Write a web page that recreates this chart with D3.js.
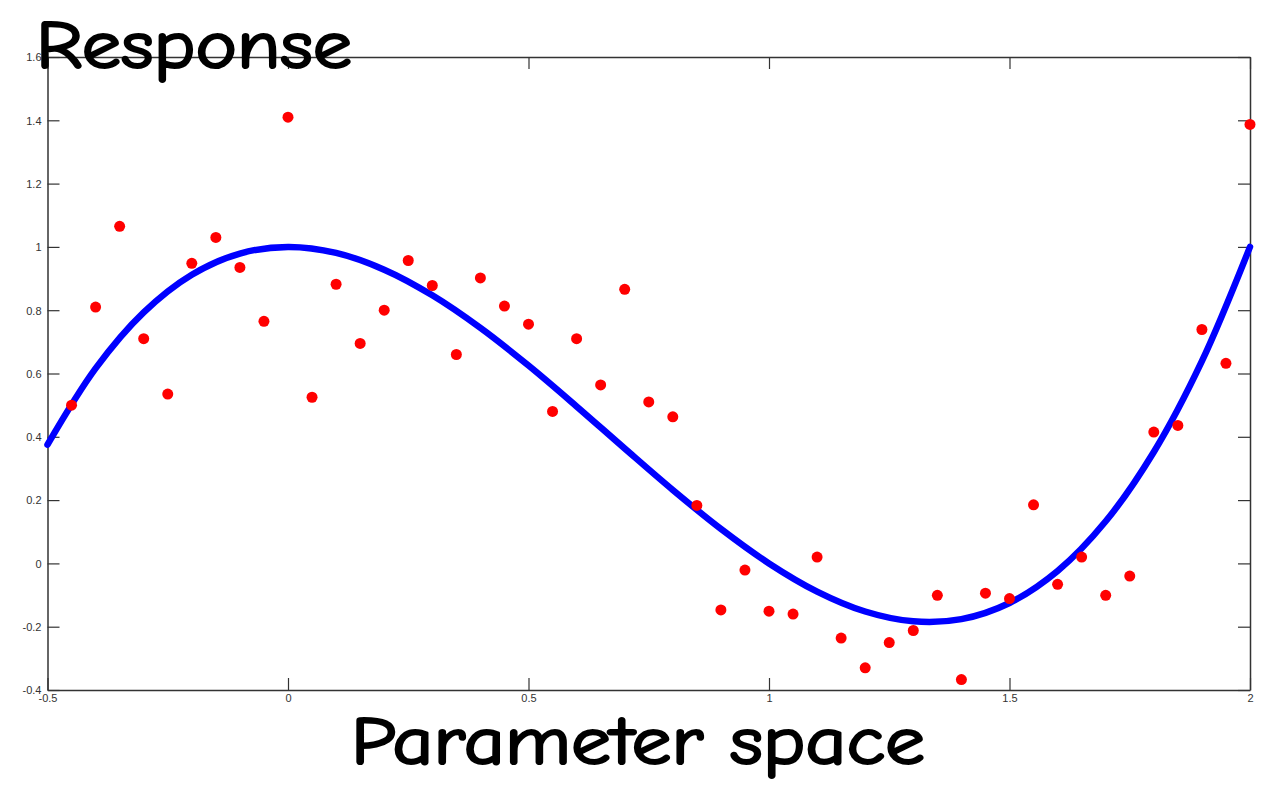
<!DOCTYPE html>
<html>
<head>
<meta charset="utf-8">
<script src="https://cdn.jsdelivr.net/npm/d3@7"></script>
<style>
  html, body { margin: 0; padding: 0; background: #fff; }
  svg { display: block; }
</style>
</head>
<body>
<svg id="chart" width="1261" height="785"></svg>
<script>
// ---- data ----
const sampleX = [-0.45,-0.4,-0.35,-0.3,-0.25,-0.2,-0.15,-0.1,-0.05,0,0.05,0.1,0.15,0.2,0.25,0.3,0.35,0.4,0.45,0.5,0.55,0.6,0.65,0.7,0.75,0.8,0.85,0.9,0.95,1.0,1.05,1.1,1.15,1.2,1.25,1.3,1.35,1.4,1.45,1.5,1.55,1.6,1.65,1.7,1.75,1.8,1.85,1.9,1.95,2.0];
const sampleY = [0.50,0.81,1.065,0.71,0.535,0.948,1.03,0.935,0.765,1.41,0.525,0.882,0.695,0.80,0.957,0.878,0.66,0.902,0.813,0.756,0.48,0.71,0.564,0.866,0.51,0.463,0.183,-0.147,-0.021,-0.151,-0.16,0.02,-0.236,-0.33,-0.25,-0.212,-0.101,-0.367,-0.094,-0.111,0.185,-0.066,0.02,-0.101,-0.04,0.415,0.436,0.739,0.632,1.387];

const curveX = [-0.5,-0.4,-0.3,-0.2,-0.1,0,0.1,0.2,0.3,0.4,0.5,0.6,0.7,0.8,0.9,1.0,1.1,1.2,1.3,1.4,1.5,1.6,1.7,1.8,1.9,2.0];
const curveY = [0.375,0.616,0.793,0.912,0.979,1.0,0.981,0.928,0.847,0.744,0.625,0.496,0.363,0.232,0.109,0.0,-0.089,-0.152,-0.183,-0.176,-0.125,-0.024,0.133,0.352,0.639,1.0];

const xTicks = [-0.5, 0, 0.5, 1, 1.5, 2];
const xTickLabels = ["-0.5", "0", "0.5", "1", "1.5", "2"];
const yTicks = [-0.4, -0.2, 0, 0.2, 0.4, 0.6, 0.8, 1, 1.2, 1.4, 1.6];
const yTickLabels = ["-0.4", "-0.2", "0", "0.2", "0.4", "0.6", "0.8", "1", "1.2", "1.4", "1.6"];

const titleY = "Response";
const titleX = "Parameter space";

// ---- layout ----
const svg = d3.select("#chart");
const L = 47.5, R = 1250, T = 57, B = 690;

const x = d3.scaleLinear().domain([-0.5, 2]).range([L, R]);
const y = d3.scaleLinear().domain([-0.4, 1.6]).range([B, T]);

const axisColor = "#333";
const tickLen = 12;

const fmtX = (d, i) => xTickLabels[i];
const fmtY = (d, i) => yTickLabels[i];

const gBottom = svg.append("g").attr("transform", `translate(0,${B})`)
  .call(d3.axisBottom(x).tickValues(xTicks).tickFormat(fmtX).tickSizeInner(-tickLen).tickSizeOuter(0).tickPadding(4));
const gTop = svg.append("g").attr("transform", `translate(0,${T})`)
  .call(d3.axisTop(x).tickValues(xTicks).tickFormat("").tickSizeInner(-tickLen).tickSizeOuter(0));
const gLeft = svg.append("g").attr("transform", `translate(${L},0)`)
  .call(d3.axisLeft(y).tickValues(yTicks).tickFormat(fmtY).tickSizeInner(-tickLen).tickSizeOuter(0).tickPadding(6));
const gRight = svg.append("g").attr("transform", `translate(${R},0)`)
  .call(d3.axisRight(y).tickValues(yTicks).tickFormat("").tickSizeInner(-tickLen).tickSizeOuter(0));

[gBottom, gTop, gLeft, gRight].forEach(g => {
  g.select(".domain").attr("stroke", axisColor).attr("stroke-width", 1.5);
  g.selectAll(".tick line").attr("stroke", axisColor).attr("stroke-width", 1.2);
  g.selectAll(".tick text")
    .attr("fill", "#333")
    .style("font-family", "'Liberation Sans', Arial, sans-serif")
    .style("font-size", "11px");
});
gLeft.selectAll(".tick text").attr("dy", "0.35em");
gBottom.selectAll(".tick text").attr("dy", "0.71em");

// fitted curve
const lineGen = d3.line().x(d => x(d[0])).y(d => y(d[1])).curve(d3.curveCatmullRom.alpha(0.5));
svg.append("path")
  .datum(curveX.map((v, i) => [v, curveY[i]]))
  .attr("d", lineGen)
  .attr("fill", "none")
  .attr("stroke", "#0000ff")
  .attr("stroke-width", 6.5)
  .attr("stroke-linecap", "round")
  .attr("stroke-linejoin", "round");

// sample points
svg.append("g").selectAll("circle")
  .data(sampleX.map((v, i) => [v, sampleY[i]]))
  .join("circle")
  .attr("cx", d => x(d[0]))
  .attr("cy", d => y(d[1]))
  .attr("r", 5.5)
  .attr("fill", "#ff0000");

// big titles
const bigFont = "'Comic Sans MS', 'Comic Neue', 'DejaVu Sans', sans-serif";
[[titleY, 36, 68, 316], [titleX, 351, 764, 574]].forEach(([t, tx, ty, w]) => {
  svg.append("text")
    .attr("x", tx).attr("y", ty)
    .attr("textLength", w).attr("lengthAdjust", "spacingAndGlyphs")
    .style("font-family", bigFont).style("font-size", "68px")
    .attr("fill", "#000")
    .attr("stroke", "#000").attr("stroke-width", 2.2).attr("stroke-linejoin", "round")
    .text(t);
});
</script>
</body>
</html>
